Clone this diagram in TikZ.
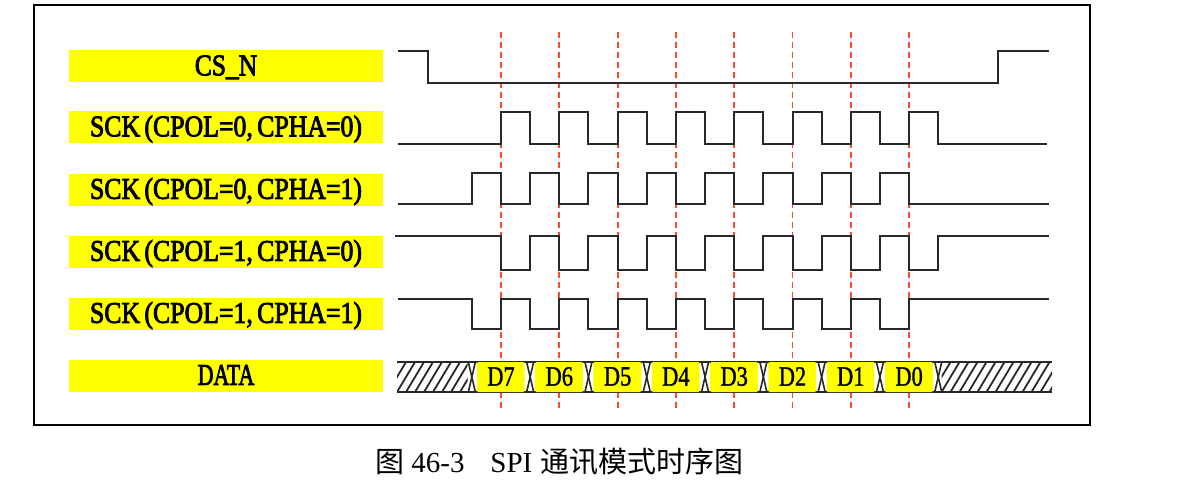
\documentclass[tikz,border=0pt]{standalone}
\usepackage{fontspec}
\setmainfont{Liberation Serif}
\newfontfamily\cjk{Noto Sans CJK SC}
\newcommand\heavytext[2]{\special{pdf:literal direct 2 Tr #1 w}#2\special{pdf:literal direct 0 Tr 1 w}}
\definecolor{lblyellow}{RGB}{255,255,0}
\definecolor{dashred}{RGB}{250,75,50}
\definecolor{wavegray}{RGB}{40,40,40}
\begin{document}
\begin{tikzpicture}[x=0.5pt,y=-0.5pt,
  lab/.style={fill=lblyellow,minimum width=157pt,minimum height=16pt,inner sep=0pt,
    text height=11.3pt,text depth=2.5pt,font=\fontsize{15}{15}\selectfont},
  wave/.style={draw=wavegray,line width=1pt,line join=miter},
  reddash/.style={draw=dashred,line width=0.9pt,dash pattern=on 3pt off 2pt},
  bus/.style={draw=wavegray,line width=0.8pt},
  hatchline/.style={draw=wavegray,line width=0.9pt},
  dbox/.style={fill=lblyellow,rounded corners=0.6pt},
  dlab/.style={inner sep=0pt,font=\fontsize{14}{14}\selectfont},
  captext/.style={inner sep=0pt,anchor=base west,font=\fontsize{14.5}{14.5}\selectfont}]
\useasboundingbox (0,0) rectangle (1190,481);
\fill[white] (0,0) rectangle (1190,481);
% frame
\draw[line width=1.2pt,black] (34,5) rectangle (1090,425);
% labels
\node[lab] (cs)    at (226,66.5) {\scalebox{0.85}[1]{\heavytext{0.45}{CS\_N}}};
\node[lab] (sck00) at (226,127.5) {\scalebox{0.86}[1]{\heavytext{0.45}{SCK\,(CPOL=0,\,CPHA=0)}}};
\node[lab] (sck01) at (226,190) {\scalebox{0.86}[1]{\heavytext{0.45}{SCK\,(CPOL=0,\,CPHA=1)}}};
\node[lab] (sck10) at (226,252) {\scalebox{0.86}[1]{\heavytext{0.45}{SCK\,(CPOL=1,\,CPHA=0)}}};
\node[lab] (sck11) at (226,314) {\scalebox{0.86}[1]{\heavytext{0.45}{SCK\,(CPOL=1,\,CPHA=1)}}};
\node[lab] (data)  at (226,376) {\scalebox{0.73}[1]{\heavytext{0.45}{DATA}}};
% red dashed sampling lines
\foreach \k in {0,...,7}
  \draw[reddash] ({501+\k*58.3},32) -- ({501+\k*58.3},408);
% CS_N
\draw[wave] (398,51) -- (428,51) -- (428,83) -- (998,83) -- (998,51) -- (1049,51);
% SCK CPOL=0 CPHA=0
\draw[wave] (398,144) -- (501,144)
  foreach \k in {0,...,7} { -- ++(0,-32) -- ++(29.15,0) -- ++(0,32) -- ++(29.15,0) }
  -- (1047,144);
% SCK CPOL=0 CPHA=1
\draw[wave] (398,204) -- (471.85,204)
  foreach \k in {0,...,7} { -- ++(0,-31) -- ++(29.15,0) -- ++(0,31) -- ++(29.15,0) }
  -- (1049,204);
% SCK CPOL=1 CPHA=0
\draw[wave] (395,236) -- (501,236)
  foreach \k in {0,...,7} { -- ++(0,34) -- ++(29.15,0) -- ++(0,-34) -- ++(29.15,0) }
  -- (1049,236);
% SCK CPOL=1 CPHA=1
\draw[wave] (398,299) -- (471.85,299)
  foreach \k in {0,...,7} { -- ++(0,30) -- ++(29.15,0) -- ++(0,-30) -- ++(29.15,0) }
  -- (1049,299);
% DATA bus
\draw[bus] (397,362) -- (1052,362);
\draw[bus] (397,392) -- (1052,392);
\begin{scope}
  \clip (397,362) rectangle (467.5,392);
  \foreach \i in {-4,...,12}
    \draw[hatchline] ({397+\i*9},392) -- ++(18,-30);
\end{scope}
\begin{scope}
  \clip (941.5,362) rectangle (1052,392);
  \foreach \i in {-4,...,16}
    \draw[hatchline] ({941.5+\i*9},392) -- ++(18,-30);
\end{scope}
\foreach \k in {0,...,8} {
  \pgfmathsetmacro{\xc}{471.85+\k*58.3}
  \draw[bus] ({\xc-3.5},362) -- ({\xc+3.5},392);
  \draw[bus] ({\xc-3.5},392) -- ({\xc+3.5},362);
}
\foreach \k/\d in {0/7,1/6,2/5,3/4,4/3,5/2,6/1,7/0} {
  \pgfmathsetmacro{\xc}{471.85+\k*58.3}
  \fill[dbox] ({\xc+5},362) rectangle ({\xc+58.3-5.5},392);
  \node[dlab] (d\d) at ({\xc+29.15},376.5) {\scalebox{0.8}[1]{\heavytext{0.2}{D\d}}};
}
% caption
\node[captext] (c1) at (375,472) {\cjk 图};
\node[captext] (c2) at (411,472) {46-3};
\node[captext] (c3) at (490,472) {SPI};
\node[captext] (c4) at (540,472) {\cjk 通讯模式时序图};
\end{tikzpicture}
\end{document}
